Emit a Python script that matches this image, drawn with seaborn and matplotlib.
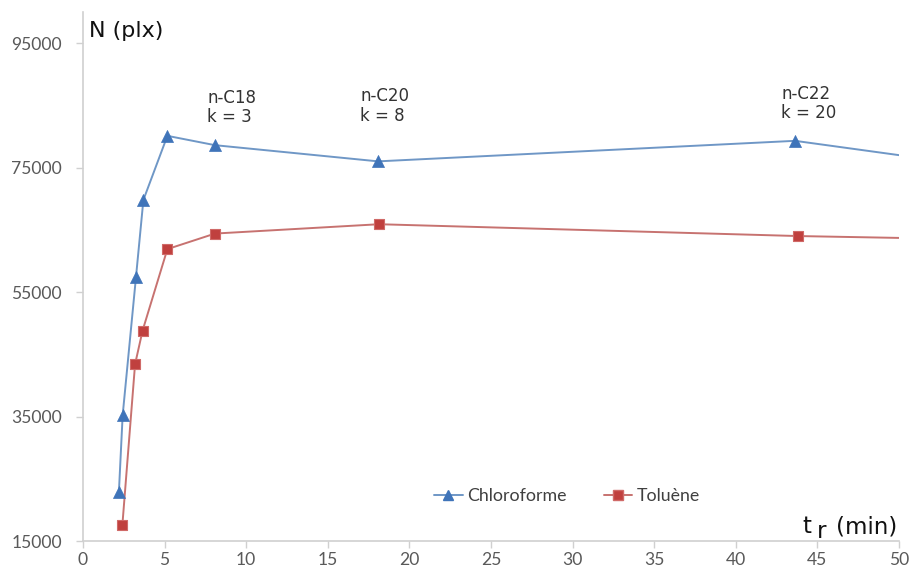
import matplotlib
matplotlib.use("Agg")
import matplotlib.pyplot as plt
import seaborn as sns
import pandas as pd
from matplotlib.lines import Line2D

# Data
chloro_x = [2.2, 2.43, 3.25, 3.7, 5.17, 8.09, 18.08, 43.63]
chloro_y = [22900, 35200, 57500, 69800, 80100, 78600, 76000, 79300]
tol_x = [2.41, 3.19, 3.65, 5.17, 8.09, 18.14, 43.81]
tol_y = [17500, 43400, 48800, 61900, 64400, 65900, 64000]
# line continues to the right edge (x = 50) without marker
chloro_end = (50, 77000)
tol_end = (50, 63700)

xticks = list(range(0, 51, 5))
yticks = [15000, 35000, 55000, 75000, 95000]

annot_x = [7.6, 17.0, 42.8]
annot_y = [84700, 84900, 85300]
annot_txt = ["n-C18\nk = 3", "n-C20\nk = 8", "n-C22\nk = 20"]

blue_line = "#6f97c6"
blue_mark = "#3f74b9"
red_line = "#c77270"
red_mark = "#c0403e"

sns.set_theme(style="white")
plt.rcParams['font.family'] = ['Lato', 'DejaVu Sans']

fig = plt.figure(figsize=(9.11, 5.71), dpi=100)
ax = fig.add_axes([83/911, 30/571, 816/911, 529/571])

df_c = pd.DataFrame({"x": chloro_x + [chloro_end[0]], "y": chloro_y + [chloro_end[1]]})
df_t = pd.DataFrame({"x": tol_x + [tol_end[0]], "y": tol_y + [tol_end[1]]})
sns.lineplot(data=df_c, x="x", y="y", ax=ax, color=blue_line, lw=1.4, sort=False, legend=False)
sns.lineplot(data=df_t, x="x", y="y", ax=ax, color=red_line, lw=1.4, sort=False, legend=False)
sns.scatterplot(x=chloro_x, y=chloro_y, ax=ax, marker="^", s=75, color=blue_mark,
                edgecolor=blue_mark, linewidth=0.5, zorder=5, legend=False)
sns.scatterplot(x=tol_x, y=tol_y, ax=ax, marker="s", s=60, color=red_mark,
                edgecolor="#d06a68", linewidth=0.8, zorder=5, legend=False)

ax.set_xlim(0, 50)
ax.set_ylim(15000, 100000)
ax.set_xticks(xticks)
ax.set_yticks(yticks)
ax.set_xlabel("")
ax.set_ylabel("")

for s in ["top", "right"]:
    ax.spines[s].set_visible(False)
for s in ["left", "bottom"]:
    ax.spines[s].set_color("#d0d0d0")
    ax.spines[s].set_linewidth(1.2)
ax.tick_params(axis="both", which="major", direction="out", length=5, width=1.0,
               color="#d0d0d0", labelcolor="#595959", labelsize=13.5)
ax.tick_params(axis="x", bottom=True, pad=3)
ax.tick_params(axis="y", left=True, pad=10)

# fit tick label size so that "75000" is about 51 px wide, as in the reference
fig.canvas.draw()
rend = fig.canvas.get_renderer()
w = ax.get_yticklabels()[3].get_window_extent(rend).width
size = 13.5 * 51.0 / w
ax.tick_params(axis="y", labelsize=size)
ax.tick_params(axis="x", labelsize=min(size, 13.0))

for x, y, t in zip(annot_x, annot_y, annot_txt):
    ax.text(x, y, t, fontsize=12, color="#333333", ha="left", va="center",
            multialignment="left", family="DejaVu Sans", linespacing=1.1)

fig.text(89/911, 1 - 31/571, "N (plx)", fontsize=16, family="DejaVu Sans",
         color="#111111", ha="left", va="center")
fig.text(802/911, 1 - 533/571, "t", fontsize=16.5, family="DejaVu Sans",
         color="#111111", ha="left", va="baseline")
fig.text(817/911, 1 - 538/571, "r", fontsize=16.5, family="DejaVu Sans",
         color="#111111", ha="left", va="baseline")
fig.text(836/911, 1 - 533/571, "(min)", fontsize=16.5, family="DejaVu Sans",
         color="#111111", ha="left", va="baseline")

handles = [
    Line2D([], [], color=blue_line, lw=1.4, marker="^", markersize=7,
           markerfacecolor=blue_mark, markeredgecolor=blue_mark),
    Line2D([], [], color=red_line, lw=1.4, marker="s", markersize=7,
           markerfacecolor=red_mark, markeredgecolor="#d06a68"),
]
leg = ax.legend(handles, ["Chloroforme", "Toluène"], loc="center",
                frameon=False, ncol=2, fontsize=12.8,
                handlelength=1.6, columnspacing=2.1, handletextpad=0.25)
leg.set_bbox_to_anchor((567/911, 1 - 496/571), transform=fig.transFigure)
for t in leg.get_texts():
    t.set_color("#404040")

fig.savefig("out.png", dpi=100)
